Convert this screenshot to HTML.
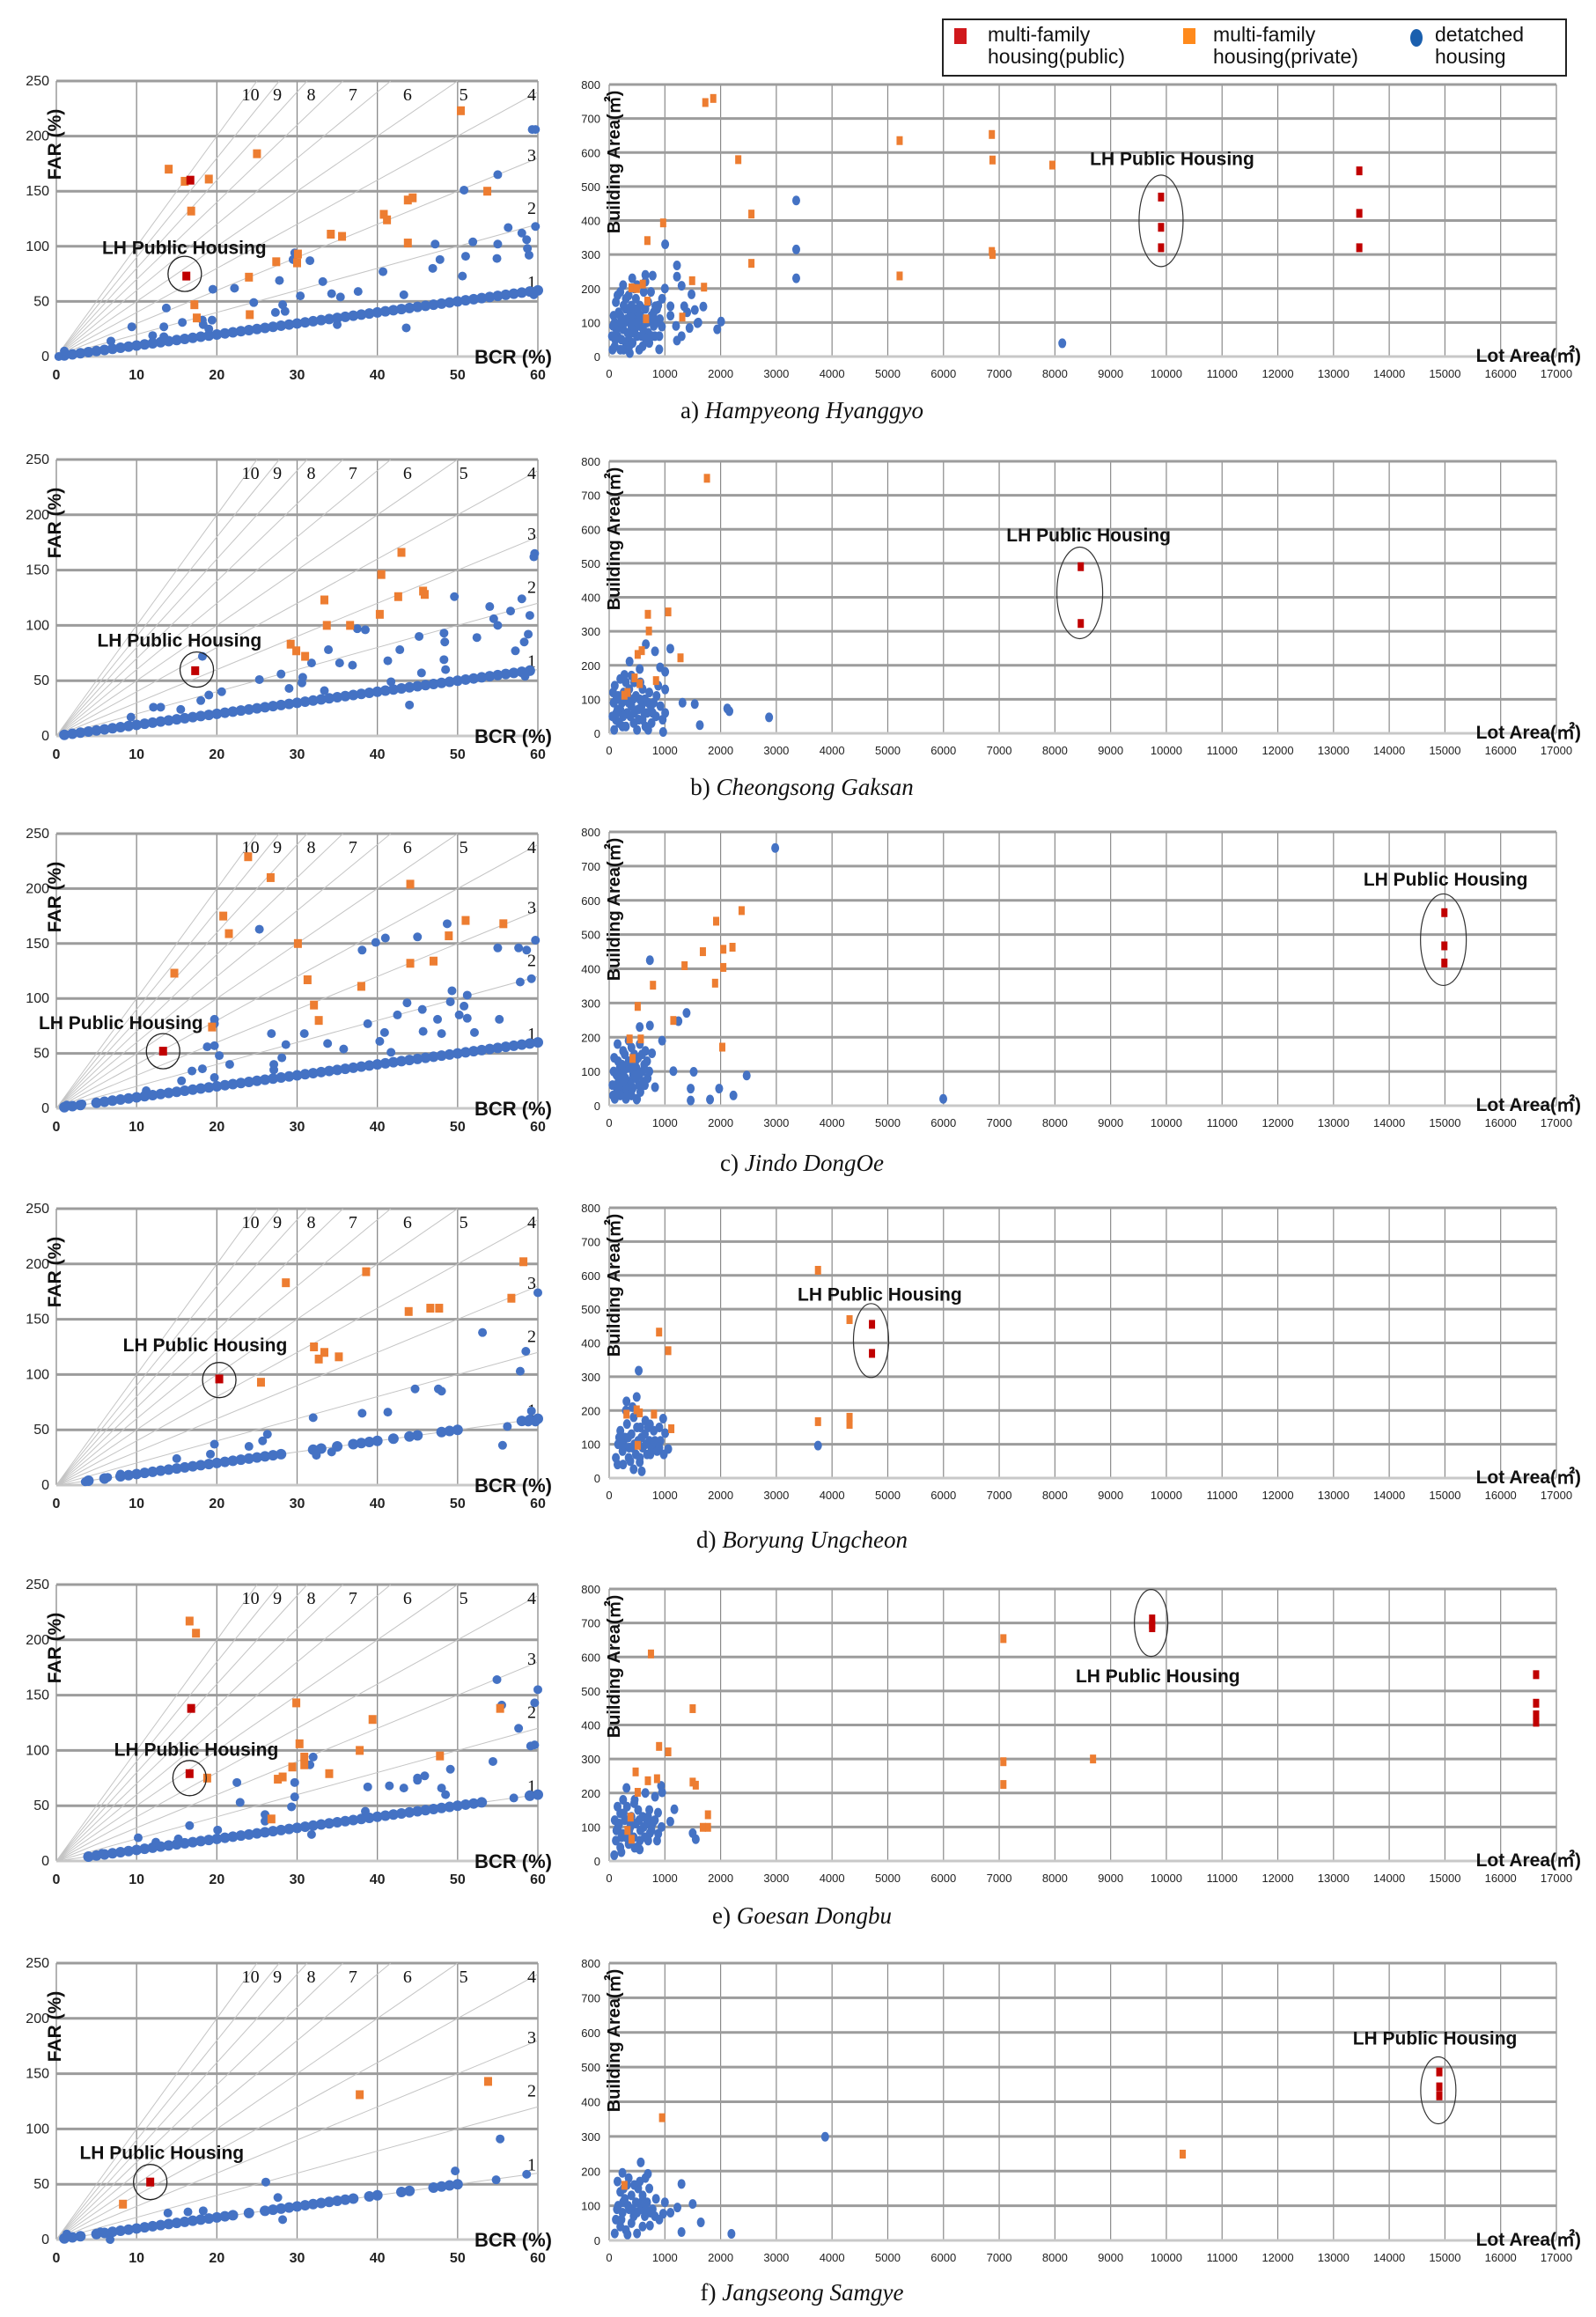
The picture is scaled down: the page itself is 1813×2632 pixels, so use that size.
<!DOCTYPE html>
<html><head><meta charset="utf-8">
<style>
html,body{margin:0;padding:0;background:#fff;}
body{width:1813px;height:2632px;position:relative;overflow:hidden;font-family:"Liberation Sans",sans-serif;}
svg{position:absolute;left:0;top:0;}
.legend{position:absolute;left:1070px;top:21px;width:706px;height:62px;border:2px solid #222;background:#fff;}
.lg-item{position:absolute;top:4px;font-family:"Liberation Sans",sans-serif;font-size:23px;line-height:25px;color:#111;}
.sw{position:absolute;top:9px;}
.cap{position:absolute;width:600px;left:611px;text-align:center;font-family:"Liberation Serif",serif;font-size:27px;color:#111;}
.cap i{font-style:italic;}
</style></head>
<body>
<svg id="fig" width="1813" height="2632" viewBox="0 0 1813 2632" xmlns="http://www.w3.org/2000/svg"></svg>

<div class="legend">
  <div class="sw" style="left:12px;width:14px;height:18px;background:#d0181c;"></div>
  <div class="lg-item" style="left:50px;">multi-family<br>housing(public)</div>
  <div class="sw" style="left:272px;width:14px;height:18px;background:#ff8a1c;"></div>
  <div class="lg-item" style="left:306px;">multi-family<br>housing(private)</div>
  <div class="sw" style="left:530px;top:10px;width:14px;height:20px;border-radius:50%;background:#1a5fae;"></div>
  <div class="lg-item" style="left:558px;">detatched<br>housing</div>
</div>

<div class="cap" style="top:451px;">a) <i>Hampyeong Hyanggyo</i></div>
<div class="cap" style="top:879px;">b) <i>Cheongsong Gaksan</i></div>
<div class="cap" style="top:1306px;">c) <i>Jindo DongOe</i></div>
<div class="cap" style="top:1734px;">d) <i>Boryung Ungcheon</i></div>
<div class="cap" style="top:2161px;">e) <i>Goesan Dongbu</i></div>
<div class="cap" style="top:2589px;">f) <i>Jangseong Samgye</i></div>

<script>
// ---------- tick / category data ----------
const farTicks = [0,50,100,150,200,250];
const bcrTicks = [0,10,20,30,40,50,60];
const areaTicks = [0,100,200,300,400,500,600,700,800];
const lotTicks = [0,1000,2000,3000,4000,5000,6000,7000,8000,9000,10000,11000,12000,13000,14000,15000,16000,17000];
const ratioLines = [1,2,3,4,5,6,7,8,9,10];

// ---------- Row a ----------
const bandA = [[1,1],[2,2],[3,3],[4,4],[5,5],[6,6],[7,7],[8,8],[9,9],[10,10],[11,11],[12,12],[13,13],[14,14],[15,15],[16,16],[17,17],[18,18],[19,19],[20,20],[21,21],[22,22],[23,23],[24,24],[25,25],[26,26],[27,27],[28,28],[29,29],[30,30],[31,31],[32,32],[33,33],[34,34],[35,35],[36,36],[37,37],[38,38],[39,39],[40,40],[41,41],[42,42],[43,43],[44,44],[45,45],[46,46],[47,47],[48,48],[49,49],[50,50],[51,51],[52,52],[53,53],[54,54],[55,55],[56,56],[57,57],[58,58],[59,59],[60,60]];
const farBlueA = [[59.3,206],[59.7,206],[55,165],[50.8,151],[59.7,118],[58,112],[56.3,117],[58.6,106],[51.9,104],[55,102],[47.2,102],[58.7,98],[58.9,92],[51,91],[54.9,89],[47.8,88],[46.9,80],[40.7,77],[50.6,73],[29.7,94],[29.5,88],[31.6,87],[27.8,69],[33.2,68],[22.2,62],[19.5,61],[37.6,59],[34.3,57],[35.4,54],[30.4,55],[43.3,56],[24.6,49],[13.7,44],[28.2,47],[27.3,40],[28.5,41],[19.4,33],[18.2,33],[15.7,31],[13.4,27],[9.4,27],[18.3,29],[19,25],[12,19],[13.4,18],[6.8,14],[43.6,26],[35,29],[59.5,56],[1,5],[0.3,0]];
const farOrangeA = [[14,170],[16,159],[19,161],[25,184],[16.8,132],[17.2,47],[17.5,35],[24,72],[24.1,38],[27.4,86],[30.1,93],[30,85],[34.2,111],[35.6,109],[40.8,129],[41.2,124],[43.8,142],[44.4,144],[43.8,103],[50.4,223],[53.7,150]];
const farRedA = [[16.7,160],[16.2,73]];
const areaBlueA = [[3357,459],[3357,315],[3357,230],[1005,330],[1217,268],[1217,235],[2009,103],[1939,80],[8132,39],[1478,183],[1690,147],[1537,137],[1347,148],[1300,208],[1100,148],[830,148],[650,240],[780,238],[414,230],[946,88],[1217,47],[898,21],[1584,98],[1442,84],
 [100,100],[150,60],[200,120],[250,80],[300,140],[350,180],[400,90],[450,200],[500,60],[550,150],[600,110],[650,220],[700,70],[750,190],[800,130],[850,100],[900,60],[950,170],[100,30],[200,20],[300,40],[400,150],[500,210],[600,30],[700,160],[800,90],[150,180],[250,210],[350,50],[450,120],[550,90],[650,140],[50,60],[80,120],[120,160],[180,90],[220,50],[280,100],[330,70],[380,120],[420,40],[480,170],[520,130],[580,60],[620,190],[680,100],[720,40],[760,120],[820,60],[880,150],[1000,200],[1100,120],[1200,90],[1300,60],[1400,130],[1600,100],[60,20],[130,80],[260,20],[370,10],[430,70],[540,20],
 [70,90],[110,50],[170,130],[210,100],[260,150],[310,110],[360,30],[410,100],[460,80],[510,100],[560,120],[610,80],[660,50],[710,110],[760,60],[810,110],[860,140],[910,110],[300,170],[200,190],[350,140],[450,140]];
const areaOrangeA = [[1726,747],[1868,759],[2317,579],[2553,419],[2553,274],[969,393],[686,341],[5213,635],[5213,237],[6868,653],[6880,578],[6868,309],[6880,300],[7955,563],[1489,223],[1702,204],[686,163],[1312,116],[662,111],[402,202],[603,213],[496,200]];
const areaRedA = [[9905,469],[9905,380],[9905,320],[13463,546],[13463,421],[13463,320]];

// ---------- Row b ----------
const bandB = [[1,1],[2,2],[3,3],[4,4],[5,5],[6,6],[7,7],[8,8],[9,9],[10,10],[11,11],[12,12],[13,13],[14,14],[15,15],[16,16],[17,17],[18,18],[19,19],[20,20],[21,21],[22,22],[23,23],[24,24],[25,25],[26,26],[27,27],[28,28],[29,29],[30,30],[31,31],[32,32],[33,33],[34,34],[35,35],[36,36],[37,37],[38,38],[39,39],[40,40],[41,41],[42,42],[43,43],[44,44],[45,45],[46,46],[47,47],[48,48],[49,49],[50,50],[51,51],[52,52],[53,53],[54,54],[55,55],[56,56],[57,57],[58,58],[59,59]];
const farBlueB = [[59.6,165],[59.5,162],[49.6,126],[58,124],[54,117],[56.6,113],[59,109],[54.5,106],[55,100],[52.4,89],[48.3,93],[45.2,90],[48.4,85],[58.8,92],[58.3,85],[57.2,77],[38.5,96],[37.5,97],[33.9,78],[42.8,78],[41.3,68],[35.3,66],[36.9,64],[48.3,69],[45.5,57],[48.5,60],[41.7,49],[30.7,53],[28,56],[30.6,48],[29,43],[33.4,41],[25.3,51],[20.6,40],[19,37],[18,32],[12.1,26],[13,26],[15.5,24],[9.3,17],[44,28],[59,60],[58.4,54],[18.2,72],[31.8,66]];
const farOrangeB = [[43,166],[40.5,146],[33.4,123],[42.6,126],[45.7,131],[45.9,128],[40.3,110],[33.7,100],[36.6,100],[29.2,83],[29.9,77],[31,72]];
const farRedB = [[17.3,59]];
const areaBlueB = [[2870,47],[2120,73],[2157,65],[1627,24],[1536,86],[1316,90],[969,4],[1097,249],[823,241],[658,262],[1005,181],[914,194],[1005,129],[1005,60],[731,86],[366,211],[274,172],[548,189],
 [80,90],[120,40],[160,110],[200,70],[240,20],[280,100],[320,60],[360,130],[400,80],[440,30],[480,110],[520,70],[560,150],[600,40],[640,100],[680,60],[720,120],[760,30],[800,90],[840,50],[880,140],[920,80],[960,40],[100,140],[200,160],[300,20],[400,170],[500,10],[600,130],[700,10],[150,70],[250,50],[350,90],[450,60],[550,100],[650,20],[750,80],[850,110],[60,50],[90,10],[300,150],[450,150],
 [70,120],[130,60],[180,30],[230,90],[330,110],[380,50],[430,100],[530,40],[580,80],[630,60],[700,90],[780,60],[130,100],[260,120]];
const areaOrangeB = [[1755,750],[1060,357],[695,350],[713,301],[1280,222],[512,232],[585,243],[457,163],[548,146],[841,155],[329,120],[274,112]];
const areaRedB = [[8464,490],[8464,323]];

// ---------- Row c ----------
const bandC = [[1,1],[2,2],[3,3],[5,5],[6,6],[7,7],[8,8],[9,9],[10,10],[11,11],[12,12],[13,13],[14,14],[15,15],[16,16],[17,17],[18,18],[19,19],[20,20],[21,21],[22,22],[23,23],[24,24],[25,25],[26,26],[27,27],[28,28],[29,29],[30,30],[31,31],[32,32],[33,33],[34,34],[35,35],[36,36],[37,37],[38,38],[39,39],[40,40],[41,41],[42,42],[43,43],[44,44],[45,45],[46,46],[47,47],[48,48],[49,49],[50,50],[51,51],[52,52],[53,53],[54,54],[55,55],[56,56],[57,57],[58,58],[59,59],[60,60]];
const farBlueC = [[25.3,163],[19.7,81],[19.7,77],[41,155],[39.8,151],[45,156],[48.7,168],[38.1,144],[55,146],[57.6,146],[58.6,144],[59.7,153],[57.8,115],[59.2,118],[49.3,107],[51.2,103],[49.1,97],[50.8,93],[43.7,96],[45.6,90],[42.5,85],[47.5,81],[50.2,85],[51.2,82],[55.2,81],[38.8,77],[40.9,69],[45.7,70],[48,68],[52.1,69],[30.9,68],[26.8,68],[28.6,58],[33.8,59],[35.8,54],[40.3,61],[41.7,51],[28.1,46],[21.6,40],[27.1,40],[27.1,35],[19.7,57],[18.8,56],[20.3,48],[18.2,36],[16.9,34],[19.7,28],[15.6,25],[11.2,16],[1.3,3],[3.2,4]];
const farOrangeC = [[23.9,229],[26.7,210],[44.1,204],[20.8,175],[21.5,159],[51,171],[55.7,168],[30.1,150],[48.9,157],[44.1,132],[47,134],[14.7,123],[31.3,117],[38,111],[32.1,94],[32.7,80],[19.4,74]];
const farRedC = [[13.3,52]];
const areaBlueC = [[2980,753],[5996,20],[731,425],[1389,271],[1243,247],[731,234],[950,190],[1152,101],[1517,99],[2468,88],[1974,50],[2230,30],[1463,50],[1463,15],[1810,18],[494,18],[768,153],[823,54],[548,230],
 [80,100],[120,60],[160,130],[200,90],[240,40],[280,150],[320,110],[360,70],[400,170],[440,120],[480,80],[520,140],[560,40],[600,100],[640,60],[680,130],[100,20],[200,30],[300,20],[400,30],[500,20],[150,180],[250,160],[350,190],[450,150],[550,180],[650,160],[90,140],[190,110],[290,80],[390,60],[490,110],[590,150],[690,80],[60,60],[130,90],[230,120],[330,40],[430,90],[530,60],[630,120],[720,100],
 [70,30],[140,40],[210,60],[260,100],[310,50],[370,110],[420,50],[470,130],[540,90],[610,70],[170,80],[250,70],[350,130]];
const areaOrangeC = [[2377,570],[1920,539],[2048,457],[2213,463],[1682,450],[1353,409],[2048,404],[1901,358],[786,352],[512,290],[1152,249],[2030,171],[366,195],[567,195],[420,138]];
const areaRedC = [[14990,564],[14990,467],[14990,417]];

// ---------- Row d ----------
const bandD = [[4,4],[6,6],[8,8],[9,9],[10,10],[11,11],[12,12],[13,13],[14,14],[15,15],[16,16],[17,17],[18,18],[19,19],[20,20],[21,21],[22,22],[23,23],[24,24],[25,25],[26,26],[27,27],[28,28],[32,32],[33,33],[35,35],[37,37],[38,38],[39,39],[40,40],[42,42],[44,44],[45,45],[48,48],[49,49],[50,50],[58,58],[59,59],[60,60]];
const farBlueD = [[60,174],[53.1,138],[58.5,121],[57.8,103],[44.7,87],[47.6,87],[48,85],[38.1,65],[41.3,66],[32,61],[56.2,53],[55.6,36],[26.3,46],[25.7,40],[24,35],[19.7,37],[19.2,28],[15,24],[59.2,67],[59.7,57],[58.8,57],[32.4,27],[34.3,30],[3.6,3],[6.4,7],[8,10]];
const farOrangeD = [[58.2,202],[38.6,193],[28.6,183],[56.7,169],[43.9,157],[46.6,160],[47.7,160],[32.1,125],[33.4,120],[35.2,116],[32.7,114],[25.5,93]];
const farRedD = [[20.3,96]];
const areaBlueD = [[3748,96],[530,318],[494,240],[311,227],[969,176],[1005,133],[548,47],[585,20],[439,26],[823,99],[1060,86],[731,159],
 [120,60],[160,100],[200,140],[240,80],[280,120],[320,160],[360,90],[400,130],[440,180],[480,70],[520,110],[560,150],[600,90],[640,130],[680,70],[720,110],[760,90],[800,140],[860,80],[920,110],[980,70],[300,200],[350,60],[450,100],[550,60],[650,170],[250,40],[150,40],[420,210],[700,150],[900,150],[380,50],
 [180,120],[260,100],[340,120],[420,90],[500,150],[580,120],[660,100],[740,70],[820,110],[900,90]];
const areaOrangeD = [[3748,615],[4314,469],[896,432],[1060,377],[3748,167],[4314,180],[4314,159],[1115,146],[804,189],[548,193],[311,189],[494,202],[512,97]];
const areaRedD = [[4717,455],[4717,369]];

// ---------- Row e ----------
const bandE = [[4,4],[5,5],[6,6],[7,7],[8,8],[9,9],[10,10],[11,11],[12,12],[13,13],[14,14],[15,15],[16,16],[17,17],[18,18],[19,19],[20,20],[21,21],[22,22],[23,23],[24,24],[25,25],[26,26],[27,27],[28,28],[29,29],[30,30],[31,31],[32,32],[33,33],[34,34],[35,35],[36,36],[37,37],[38,38],[39,39],[40,40],[41,41],[42,42],[43,43],[44,44],[45,45],[46,46],[47,47],[48,48],[49,49],[50,50],[51,51],[52,52],[53,53],[59,59],[60,60]];
const farBlueE = [[60,155],[59.6,143],[55.5,141],[54.9,164],[57.6,120],[59.1,104],[59.6,105],[54.4,90],[49.1,83],[45.9,77],[45,73],[45,75],[41.5,68],[43.3,66],[38.8,67],[48,66],[48.5,60],[32,94],[31.6,87],[29.7,71],[29.7,58],[22.5,71],[22.9,53],[29.3,49],[38.5,45],[26,42],[26,36],[16.6,32],[20.1,28],[31.8,24],[57,57],[59,60],[10.2,21],[12.4,17],[15.2,20],[4.2,4],[5.7,7]];
const farOrangeE = [[16.6,217],[17.4,206],[29.9,143],[39.4,128],[55.3,138],[30.3,106],[37.8,100],[47.8,95],[30.9,94],[30.9,87],[29.4,85],[34,79],[28.2,76],[27.6,74],[18.8,75],[26.8,38]];
const farRedE = [[16.8,138],[16.6,79]];
const areaBlueE = [[950,202],[932,221],[823,189],[311,215],[457,180],[1170,152],[1097,116],[1499,82],[1554,64],[457,39],[548,34],[219,26],[91,17],[731,82],[877,142],
 [120,60],[160,100],[200,140],[240,80],[280,120],[320,160],[360,90],[400,130],[440,70],[480,110],[520,150],[560,90],[600,130],[640,70],[680,110],[720,150],[760,90],[820,120],[880,80],[940,100],[100,120],[150,160],[250,180],[350,50],[450,170],[550,60],[650,200],[200,40],[300,70],[500,40],[700,60],[180,110],[380,100],
 [130,90],[220,70],[260,140],[340,120],[420,110],[540,120],[620,100],[700,130],[780,110],[860,60]];
const areaOrangeE = [[750,609],[7075,654],[1499,448],[896,337],[1060,321],[475,262],[695,236],[859,242],[512,202],[1499,232],[1554,223],[7075,292],[8684,300],[7075,225],[1773,136],[1773,99],[1682,99],[384,129],[329,90],[402,64]];
const areaRedE = [[9745,712],[9745,695],[9745,686],[16636,548],[16636,464],[16636,430],[16636,408]];

// ---------- Row f ----------
const bandF = [[1,1],[2,2],[3,3],[5,5],[6,6],[7,7],[8,8],[9,9],[10,10],[11,11],[12,12],[13,13],[14,14],[15,15],[16,16],[17,17],[18,18],[19,19],[20,20],[21,21],[22,22],[24,24],[26,26],[27,27],[28,28],[29,29],[30,30],[31,31],[32,32],[33,33],[34,34],[35,35],[36,36],[37,37],[39,39],[40,40],[43,43],[44,44],[47,47],[48,48],[49,49],[50,50]];
const farBlueF = [[55.3,91],[49.7,62],[54.8,54],[58.6,59],[26.1,52],[27.6,38],[13.9,24],[16.4,25],[18.3,26],[28.2,18],[6.7,0],[1.3,5],[5.5,7]];
const farOrangeF = [[53.8,143],[37.8,131],[8.3,32]];
const farRedF = [[11.7,52]];
const areaBlueF = [[3876,299],[2194,19],[1645,52],[1298,24],[1499,105],[1298,163],[1225,95],[567,225],[695,192],[238,195],[969,77],[329,17],[731,43],
 [120,60],[160,100],[200,140],[240,80],[280,120],[320,160],[360,90],[400,130],[440,70],[480,110],[520,150],[560,90],[600,130],[640,70],[680,110],[720,150],[780,90],[840,120],[900,60],[100,20],[200,40],[300,30],[400,50],[500,20],[600,40],[150,170],[350,180],[450,160],[550,170],[650,180],[250,110],[1000,110],[1100,80],
 [140,90],[220,60],[260,150],[340,100],[420,90],[500,80],[580,110],[660,90],[740,80],[820,70]];
const areaOrangeF = [[950,354],[10293,249],[274,159]];
const areaRedF = [[14899,486],[14899,443],[14899,417]];

// ---------- annotations (data coords) ----------
const leftLabelPos = [[5.7,93],[5.1,81],[-2.2,72],[8.3,121],[7.2,95],[2.9,73]];
const leftCirclePos = [[16.0,75],[17.5,60],[13.3,52],[20.3,95],[16.6,75],[11.7,52]];
const rightLabelPos = [[8629,563],[7130,565],[13537,643],[3382,525],[8373,525],[13346,565]];
const rightEllipsePos = [[9905,399],[8446,413],[14972,485],[4700,407],[9726,700],[14881,433]];

// ---------- layout (not data) ----------
const rowLetters = ['a','b','c','d','e','f'];
const LT = [92,522,947,1373,1800,2230], LB = [405,836,1259,1687,2114,2544];
const RT = [96,524,945,1372,1805,2230], RB = [405,833,1256,1679,2114,2545];
const LX0 = 64, LX1 = 611, RX0 = 692, RX1 = 1768;
const ellR = [[25,52],[26,52],[26,52],[20,42],[19,38],[20,38]];
const topLabelX = {10:23.1, 9:27, 8:31.2, 7:36.4, 6:43.2, 5:50.2};
const sideLabelY = {1:68, 2:135, 3:183, 4:238};

const NS = 'http://www.w3.org/2000/svg';
const svg = document.getElementById('fig');
function mk(tag, attrs, parent){
  const e = document.createElementNS(NS, tag);
  for (const k in attrs) e.setAttribute(k, attrs[k]);
  (parent || svg).appendChild(e);
  return e;
}

function drawLeft(i, band, blue, orange, red){
  const g = mk('g', {});
  
  
  const sx = v => LX0 + (v/60)*(LX1-LX0);
  const sy = v => LB[i] - (v/250)*(LB[i]-LT[i]);
  const clip = mk('clipPath', {id:'lc'+i}, g);
  mk('rect', {x:LX0-6, y:LT[i], width:LX1-LX0+12, height:LB[i]-LT[i]+6}, clip);
  bcrTicks.forEach(t => {
    const l = mk('line', {x1:sx(t), x2:sx(t), y1:LT[i], y2:LB[i], stroke:'#8a8a8a', 'stroke-width':1.3}, g);
    
    
    const tx = mk('text', {x:sx(t), y:LB[i]+26, 'text-anchor':'middle', 'font-size':16, 'font-weight':'bold', fill:'#222'}, g);
    tx.textContent = t;
    
    
  });
  farTicks.forEach(t => {
    const l = mk('line', {x1:LX0, x2:LX1, y1:sy(t), y2:sy(t), stroke: t===0 ? '#c8c8c8' : '#9c9c9c', 'stroke-width':3}, g);
    
    
    const tx = mk('text', {x:LX0-8, y:sy(t)+5, 'text-anchor':'end', 'font-size':16, fill:'#222'}, g);
    tx.textContent = t;
    
    
  });
  ratioLines.forEach(k => {
    const xe = Math.min(60, 250/k);
    const l = mk('line', {x1:sx(0), y1:sy(0), x2:sx(xe), y2:sy(xe*k), stroke:'#c4c4c4', 'stroke-width':1}, g);
    
    
    const tx = mk('text', {'font-size':20, 'font-family':'Liberation Serif, serif', fill:'#111'}, g);
    if (k <= 4) { tx.setAttribute('x', sx(60)-12); tx.setAttribute('y', sy(sideLabelY[k])+7); }
    else { tx.setAttribute('x', sx(topLabelX[k])); tx.setAttribute('y', sy(250)+22); }
    tx.textContent = k;
    
    
  });
  const pg = mk('g', {'clip-path':'url(#lc'+i+')'}, g);
  band.forEach(p => {
    const c = mk('circle', {cx:sx(p[0]), cy:sy(p[1]), r:6, fill:'#4472c4'}, pg);
    
    
  });
  blue.forEach(p => {
    const c = mk('circle', {cx:sx(p[0]), cy:sy(p[1]), r:5, fill:'#4472c4'}, pg);
    
    
  });
  orange.forEach(p => {
    const r = mk('rect', {x:sx(p[0])-4.5, y:sy(p[1])-5, width:9, height:10, fill:'#ed7d31'}, pg);
    
    
  });
  red.forEach(p => {
    const r = mk('rect', {x:sx(p[0])-4.5, y:sy(p[1])-5, width:9, height:10, fill:'#c00000'}, pg);
    
    
  });
  const cp = leftCirclePos[i];
  const ci = mk('ellipse', {cx:sx(cp[0]), cy:sy(cp[1]), rx:19, ry:20, fill:'none', stroke:'#222', 'stroke-width':1.3}, g);
  
  
  const lp = leftLabelPos[i];
  const lt = mk('text', {x:sx(lp[0]), y:sy(lp[1]), 'font-size':21, 'font-weight':'bold', fill:'#111'}, g);
  lt.textContent = 'LH Public Housing';
  
  
  const yt = mk('text', {x:0, y:0, 'font-size':21, 'font-weight':'bold', fill:'#111', transform:'translate(69,'+(LT[i]+72)+') rotate(-90)', 'text-anchor':'middle'}, g);
  yt.textContent = 'FAR (%)';
  
  
  const xt = mk('text', {x:LX1+16, y:LB[i]+8, 'font-size':22, 'font-weight':'bold', fill:'#111', 'text-anchor':'end'}, g);
  xt.textContent = 'BCR (%)';
  
  
}

function drawRight(i, blue, orange, red){
  const g = mk('g', {});
  
  
  const sx = v => RX0 + (v/17000)*(RX1-RX0);
  const sy = v => RB[i] - (v/800)*(RB[i]-RT[i]);
  lotTicks.forEach(t => {
    const l = mk('line', {x1:sx(t), x2:sx(t), y1:RT[i], y2:RB[i], stroke:'#8a8a8a', 'stroke-width':1.2}, g);
    
    
    const tx = mk('text', {x:sx(t), y:RB[i]+24, 'text-anchor':'middle', 'font-size':13, fill:'#222'}, g);
    tx.textContent = t;
    
    
  });
  areaTicks.forEach(t => {
    const l = mk('line', {x1:RX0, x2:RX1, y1:sy(t), y2:sy(t), stroke: t===0 ? '#c8c8c8' : '#9c9c9c', 'stroke-width':3}, g);
    
    
    const tx = mk('text', {x:RX0-10, y:sy(t)+5, 'text-anchor':'end', 'font-size':13, fill:'#222'}, g);
    tx.textContent = t;
    
    
  });
  blue.forEach(p => {
    const c = mk('ellipse', {cx:sx(p[0]), cy:sy(p[1]), rx:4.5, ry:5.5, fill:'#4472c4'}, g);
    
    
  });
  orange.forEach(p => {
    const r = mk('rect', {x:sx(p[0])-3.5, y:sy(p[1])-5, width:7, height:10, fill:'#ed7d31'}, g);
    
    
  });
  red.forEach(p => {
    const r = mk('rect', {x:sx(p[0])-3.5, y:sy(p[1])-5, width:7, height:10, fill:'#c00000'}, g);
    
    
  });
  const ep = rightEllipsePos[i];
  const el = mk('ellipse', {cx:sx(ep[0]), cy:sy(ep[1]), rx:ellR[i][0], ry:ellR[i][1], fill:'none', stroke:'#333', 'stroke-width':1.2}, g);
  
  
  const lp = rightLabelPos[i];
  const lt = mk('text', {x:sx(lp[0]), y:sy(lp[1]), 'font-size':21, 'font-weight':'bold', fill:'#111'}, g);
  lt.textContent = 'LH Public Housing';
  
  
  const yt = mk('text', {x:0, y:0, 'font-size':20, 'font-weight':'bold', fill:'#111', transform:'translate(704,'+(RT[i]+88)+') rotate(-90)', 'text-anchor':'middle'}, g);
  yt.textContent = 'Building Area(㎡)';
  
  
  const xt = mk('text', {x:1796, y:RB[i]+6, 'font-size':21, 'font-weight':'bold', fill:'#111', 'text-anchor':'end'}, g);
  xt.textContent = 'Lot Area(㎡)';
  
  
}

drawLeft(0, bandA, farBlueA, farOrangeA, farRedA);
drawLeft(1, bandB, farBlueB, farOrangeB, farRedB);
drawLeft(2, bandC, farBlueC, farOrangeC, farRedC);
drawLeft(3, bandD, farBlueD, farOrangeD, farRedD);
drawLeft(4, bandE, farBlueE, farOrangeE, farRedE);
drawLeft(5, bandF, farBlueF, farOrangeF, farRedF);
drawRight(0, areaBlueA, areaOrangeA, areaRedA);
drawRight(1, areaBlueB, areaOrangeB, areaRedB);
drawRight(2, areaBlueC, areaOrangeC, areaRedC);
drawRight(3, areaBlueD, areaOrangeD, areaRedD);
drawRight(4, areaBlueE, areaOrangeE, areaRedE);
drawRight(5, areaBlueF, areaOrangeF, areaRedF);
</script>
</body></html>
